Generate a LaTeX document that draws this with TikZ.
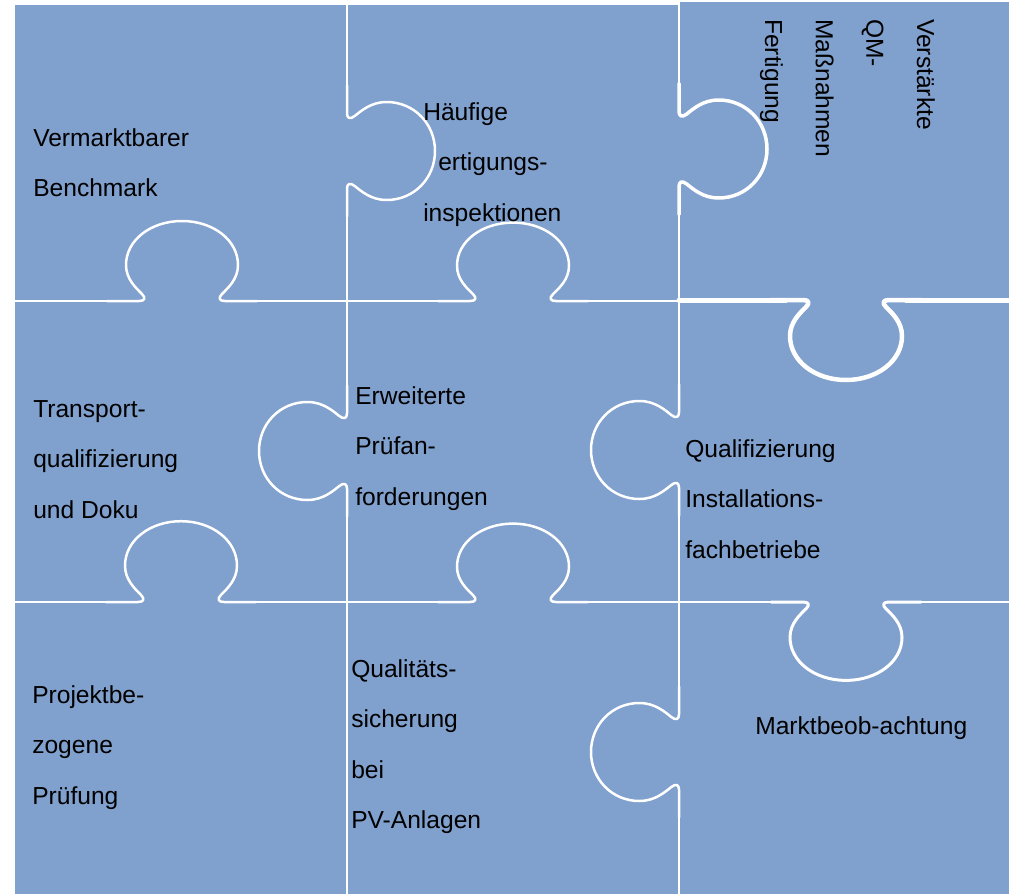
\documentclass[tikz,border=0pt]{standalone}
\usepackage{fontspec}
\setmainfont{Liberation Sans}
\definecolor{puzzleblue}{RGB}{128,160,205}

\begin{document}
\begin{tikzpicture}[x=1pt,y=-1pt,line width=2.5pt,
  seam/.style={draw=white, line join=round, line cap=round},
  piecetext/.style={inner sep=0pt, anchor=base west, text=black,
    font=\fontsize{24.6}{50.6}\selectfont},
  % one puzzle tab: neck opening on the seam, round bulb bulging to local +v
  pics/knob/.style={code={
    \draw[seam] (-75,0) -- (-43,0)
      .. controls (-37,0) and (-36,3) .. (-40,7)
      .. controls (-46,13) and (-56,22) .. (-56,36)
      .. controls (-56,61) and (-31,80) .. (0,80)
      .. controls (31,80) and (56,61) .. (56,36)
      .. controls (56,22) and (46,13) .. (40,7)
      .. controls (36,3) and (37,0) .. (43,0) -- (75,0);
  }},
  vtab/.style={xscale=.875, yscale=1.1}
]
\useasboundingbox (0,0) rectangle (1009,894);
% canvas and pieces
\fill[white] (0,0) rectangle (1009,894);
\fill[puzzleblue] (15,5) rectangle (679,894);
\fill[puzzleblue] (679,2) rectangle (1009,894);

% vertical seam between first and second column
\draw[seam] (347,0) -- (347,101);
\pic[rotate=90, vtab] at (347,151) {knob};
\draw[seam] (347,201) -- (347,401);
\pic[rotate=-90, vtab] at (347,451) {knob};
\draw[seam] (347,501) -- (347,894);

% vertical seam between second and third column
\draw[seam] (679,0) -- (679,99);
\pic[rotate=90, vtab, line width=3.5pt] at (679,149) {knob};
\draw[seam] (679,199) -- (679,400);
\pic[rotate=-90, vtab] at (679,450) {knob};
\draw[seam] (679,500) -- (679,702);
\pic[rotate=-90, vtab] at (679,752) {knob};
\draw[seam] (679,802) -- (679,894);

% horizontal seam between first and second row
\draw[seam] (15,301) -- (122,301);
\pic[yscale=-1] at (182,301) {knob};
\draw[seam] (242,301) -- (453,301);
\pic[yscale=-.98] at (513,301) {knob};
\draw[seam] (573,301) -- (679,301);
\draw[seam, line width=5pt] (679,300) -- (786,300);
\pic[line width=4.5pt] at (846,300) {knob};
\draw[seam, line width=5pt] (906,300) -- (1009,300);

% horizontal seam between second and third row
\draw[seam] (15,602) -- (121,602);
\pic[yscale=-1.01] at (181,602) {knob};
\draw[seam] (241,602) -- (453,602);
\pic[yscale=-.98] at (513,602) {knob};
\draw[seam] (573,602) -- (786,602);
\pic[yscale=.98, line width=3pt] at (846,602) {knob};
\draw[seam] (906,602) -- (1009,602);

% piece labels
\node[piecetext] (benchmark) at (32,146)
  {\begin{tabular}[t]{@{}l@{}}Vermarktbarer\\Benchmark\end{tabular}};
\node[piecetext] (inspektion) at (422,120)
  {\begin{tabular}[t]{@{}l@{}}Häufige\\\hphantom{F}ertigungs-\\inspektionen\end{tabular}};
\node[piecetext, rotate=-90] (qm) at (917,18)
  {\begin{tabular}[t]{@{}l@{}}Verstärkte\\QM-\\Maßnahmen\\Fertigung\end{tabular}};
\node[piecetext] (transport) at (32,417)
  {\begin{tabular}[t]{@{}l@{}}Transport-\\qualifizierung\\und Doku\end{tabular}};
\node[piecetext] (pruefan) at (354,404)
  {\begin{tabular}[t]{@{}l@{}}Erweiterte\\Prüfan-\\forderungen\end{tabular}};
\node[piecetext] (installation) at (684,457)
  {\begin{tabular}[t]{@{}l@{}}Qualifizierung\\Installations-\\fachbetriebe\end{tabular}};
\node[piecetext] (projekt) at (31,703)
  {\begin{tabular}[t]{@{}l@{}}Projektbe-\\zogene\\Prüfung\end{tabular}};
\node[piecetext] (qs) at (350,677)
  {\begin{tabular}[t]{@{}l@{}}Qualitäts-\\sicherung\\bei\\PV-Anlagen\end{tabular}};
\node[piecetext] (markt) at (754,734) {Marktbeob-achtung};
\end{tikzpicture}
\end{document}
